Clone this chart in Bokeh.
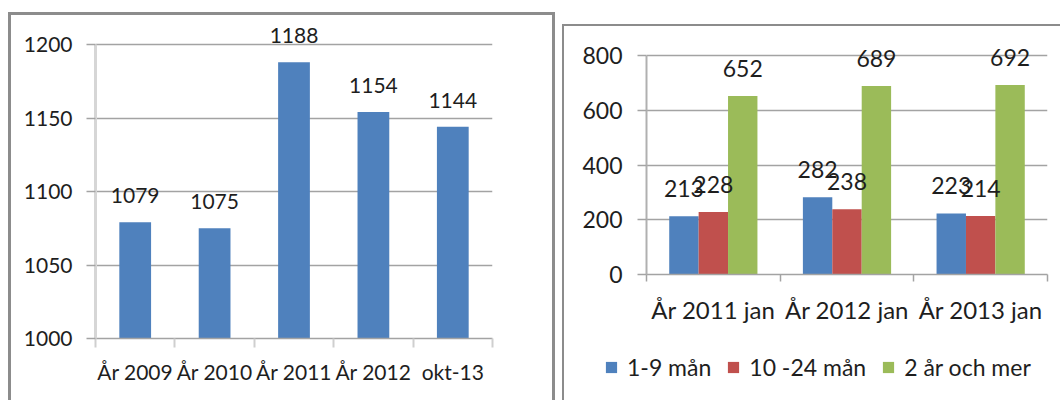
from bokeh.plotting import figure
from bokeh.models import (Range1d, FixedTicker, ColumnDataSource, Legend, LegendItem, LabelSet, Plot)
from bokeh.layouts import row, column
from bokeh.core.properties import value
from bokeh.embed import file_html
from bokeh.resources import INLINE

# ---------------- data ----------------
years = ["År 2009", "År 2010", "År 2011", "År 2012", "okt-13"]
totals = [1079, 1075, 1188, 1154, 1144]

groups = ["År 2011 jan", "År 2012 jan", "År 2013 jan"]
series_names = ["1-9 mån", "10 -24 mån", "2 år och mer"]
s_short = [213, 282, 223]
s_mid = [228, 238, 214]
s_long = [652, 689, 692]

left_ticks = [1000, 1050, 1100, 1150, 1200]
right_ticks = [0, 200, 400, 600, 800]

BLUE, RED, GREEN = "#4f81bd", "#c0504d", "#9bbb59"
FONT = "Lato"
TXT = "#1e1e1e"
GRID = "#a3a3a3"
BORDER = "#8c8c8c"

HAS_FRAME_ALIGN = "frame_align" in Plot.properties()


def style_common(p, tick_fs, cat_fs):
    p.outline_line_color = None
    p.border_fill_alpha = 0
    p.background_fill_color = "white"
    p.xgrid.grid_line_color = None
    p.ygrid.grid_line_color = GRID
    p.ygrid.grid_line_width = 1.5
    for ax, fs in ((p.xaxis[0], cat_fs), (p.yaxis[0], tick_fs)):
        ax.major_label_text_font = FONT
        ax.major_label_text_font_size = fs
        ax.major_label_text_color = TXT
        ax.minor_tick_in = 0
        ax.major_tick_in = 0
    if HAS_FRAME_ALIGN:
        p.frame_align = False


def padded_range(ticks, frame_px, pad_px):
    # headroom above the top tick so value labels are not clipped
    span = ticks[-1] - ticks[0]
    return Range1d(ticks[0], ticks[-1] + span * pad_px / frame_px)


# ---------------- left chart ----------------
n1 = len(years)
src1 = ColumnDataSource(dict(
    x=[i + 0.5 for i in range(n1)],
    top=totals,
    lab=[str(v) for v in totals],
))
p1 = figure(width=547, height=388, output_backend="svg", toolbar_location=None,
            x_range=Range1d(0, n1), y_range=padded_range(left_ticks, 294, 28),
            min_border_left=87, min_border_right=63, min_border_top=4, min_border_bottom=62)
style_common(p1, "21px", "21px")
p1.vbar(x="x", top="top", bottom=left_ticks[0], width=0.4, source=src1,
        fill_color=BLUE, line_color=None)
p1.add_layout(LabelSet(x="x", y="top", text="lab", source=src1, text_align="center",
                       text_baseline="alphabetic", y_offset=19, text_font=value(FONT),
                       text_font_size=value("21px"), text_color=TXT))
p1.xaxis.ticker = FixedTicker(ticks=[i + 0.5 for i in range(n1)], minor_ticks=list(range(n1 + 1)))
p1.xaxis.major_label_overrides = {i + 0.5: years[i] for i in range(n1)}
p1.xaxis.major_tick_out = 0
p1.xaxis.minor_tick_out = 9
p1.xaxis.minor_tick_line_color = "#cfcfcf"
p1.xaxis.minor_tick_line_width = 2
p1.xaxis.axis_line_color = GRID
p1.xaxis.axis_line_width = 1.5
p1.xaxis.major_label_standoff = 11
p1.yaxis.ticker = FixedTicker(ticks=left_ticks, minor_ticks=[])
p1.yaxis.bounds = (left_ticks[0], left_ticks[-1])
p1.yaxis.axis_line_color = "#d6d6d6"
p1.yaxis.axis_line_width = 3
p1.yaxis.major_tick_out = 9
p1.yaxis.major_tick_line_color = GRID
p1.yaxis.major_tick_line_width = 1.5
p1.yaxis.major_label_standoff = 14
p1.margin = (12, 0, 0, 8)
p1.styles = {"box-shadow": f"inset 3px 0 0 {BORDER}, inset -3px 0 0 {BORDER}, inset 0 3px 0 {BORDER}"}

# ---------------- right chart ----------------
n2 = len(groups)
bw = 0.22
colors = [BLUE, RED, GREEN]
series = [s_short, s_mid, s_long]
p2 = figure(width=498, height=310, output_backend="svg", toolbar_location=None,
            x_range=Range1d(0, n2), y_range=padded_range(right_ticks, 219, 10),
            min_border_left=84, min_border_right=13, min_border_top=21, min_border_bottom=60)
style_common(p2, "23px", "24px")
for k, (vals, col) in enumerate(zip(series, colors)):
    src = ColumnDataSource(dict(
        x=[i + 0.5 + (k - 1) * bw for i in range(n2)],
        top=vals,
        lab=[str(v) for v in vals],
    ))
    p2.vbar(x="x", top="top", bottom=0, width=bw, source=src,
            fill_color=col, line_color=None)
    p2.add_layout(LabelSet(x="x", y="top", text="lab", source=src, text_align="center",
                           text_baseline="alphabetic", y_offset=19, text_font=value(FONT),
                           text_font_size=value("23px"), text_color=TXT))
p2.xaxis.ticker = FixedTicker(ticks=[i + 0.5 for i in range(n2)], minor_ticks=list(range(n2 + 1)))
p2.xaxis.major_label_overrides = {i + 0.5: groups[i] for i in range(n2)}
p2.xaxis.major_tick_out = 0
p2.xaxis.minor_tick_out = 7
p2.xaxis.minor_tick_line_color = GRID
p2.xaxis.minor_tick_line_width = 1.5
p2.xaxis.axis_line_color = GRID
p2.xaxis.axis_line_width = 1.5
p2.xaxis.major_label_standoff = 13
p2.yaxis.ticker = FixedTicker(ticks=right_ticks, minor_ticks=[])
p2.yaxis.bounds = (right_ticks[0], right_ticks[-1])
p2.yaxis.axis_line_color = "#b0b0b0"
p2.yaxis.axis_line_width = 2
p2.yaxis.major_tick_out = 9
p2.yaxis.major_tick_line_color = GRID
p2.yaxis.major_tick_line_width = 1.5
p2.yaxis.major_label_standoff = 15
p2.margin = (24, 0, 0, 7)
p2.styles = {"box-shadow": f"inset 2px 0 0 {BORDER}, inset 0 2px 0 {BORDER}"}

# ---------------- legend strip under the right chart ----------------
leg = figure(width=498, height=66, output_backend="svg", toolbar_location=None,
             x_range=Range1d(0, 1), y_range=Range1d(0, 1),
             x_axis_type=None, y_axis_type=None,
             min_border_left=0, min_border_right=0, min_border_top=0, min_border_bottom=0)
leg.outline_line_color = None
leg.border_fill_alpha = 0
leg.background_fill_alpha = 0
leg.xgrid.grid_line_color = None
leg.ygrid.grid_line_color = None
if HAS_FRAME_ALIGN:
    leg.frame_align = False
items = []
for col, name in zip(colors, series_names):
    # legend carrier: one swatch-only glyph placed outside the strip's visible range
    r = leg.vbar(x=[5], top=[1], width=0.1, fill_color=col, line_color=None)
    items.append(LegendItem(label=name, renderers=[r]))
legend = Legend(items=items, orientation="horizontal", location=(42, 19),
                label_text_font=FONT, label_text_font_size="23px", label_text_color=TXT,
                glyph_width=14, glyph_height=14, label_standoff=9, spacing=15,
                padding=0, margin=0, border_line_color=None, background_fill_alpha=0)
leg.add_layout(legend)
leg.margin = (0, 0, 0, 7)
leg.styles = {"box-shadow": f"inset 2px 0 0 {BORDER}"}

layout = row(p1, column(p2, leg))
open("out.html", "w").write(file_html(layout, INLINE))
